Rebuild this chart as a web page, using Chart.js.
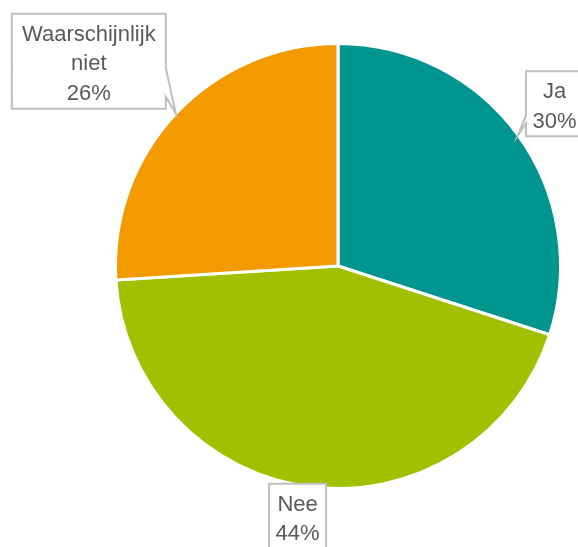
<!DOCTYPE html>
<html>
<head>
<meta charset="utf-8">
<script src="https://cdn.jsdelivr.net/npm/chart.js@4.4.1/dist/chart.umd.min.js"></script>
<style>
  html, body { margin: 0; padding: 0; background: #ffffff; }
  #wrap { width: 578px; height: 547px; position: relative; }
</style>
</head>
<body>
<div id="wrap"><canvas id="pie" width="578" height="547"></canvas></div>
<script>
const labels = ['Ja', 'Nee', 'Waarschijnlijk niet'];
const values = [30, 44, 26];
const colors = ['#00968F', '#A0C000', '#F39A00'];

// callout placement per slice: box offset from the tip, box size, which side the tail sits on
const callouts = [
    { dx: 8, dy: -64, w: 57, h: 65, side: 'left', t1: 44, t2: 52, lines: ['Ja'] },
    { dx: -41, dy: -3, w: 57, h: 65, side: 'none', lines: ['Nee'] },
    { dx: -164, dy: -100, w: 154, h: 95, side: 'right', t1: 54, t2: 83, lines: ['Waarschijnlijk', 'niet'] }
];

const calloutPlugin = {
    id: 'callouts',
    afterDatasetsDraw(chart) {
        const ctx = chart.ctx;
        const meta = chart.getDatasetMeta(0);
        const total = values.reduce((a, b) => a + b, 0);
        ctx.save();
        meta.data.forEach((arc, i) => {
            const p = arc.getProps(['x', 'y', 'startAngle', 'endAngle', 'outerRadius'], true);
            const mid = (p.startAngle + p.endAngle) / 2;
            const tipX = p.x + Math.cos(mid) * p.outerRadius;
            const tipY = p.y + Math.sin(mid) * p.outerRadius;
            const c = callouts[i];
            const left = tipX + c.dx, top = tipY + c.dy;
            const right = left + c.w, bottom = top + c.h;

            ctx.beginPath();
            if (c.side === 'right') {
                ctx.moveTo(left, top);
                ctx.lineTo(right, top);
                ctx.lineTo(right, top + c.t1);
                ctx.lineTo(tipX, tipY);
                ctx.lineTo(right, top + c.t2);
                ctx.lineTo(right, bottom);
                ctx.lineTo(left, bottom);
            } else if (c.side === 'left') {
                ctx.moveTo(left, top);
                ctx.lineTo(right, top);
                ctx.lineTo(right, bottom);
                ctx.lineTo(left, bottom);
                ctx.lineTo(left, top + c.t2);
                ctx.lineTo(tipX, tipY);
                ctx.lineTo(left, top + c.t1);
            } else {
                ctx.rect(left, top, c.w, c.h);
            }
            ctx.closePath();
            ctx.fillStyle = '#ffffff';
            ctx.fill();
            ctx.strokeStyle = '#BFBFBF';
            ctx.lineWidth = 2;
            ctx.stroke();

            const text = c.lines.concat([Math.round(values[i] / total * 100) + '%']);
            ctx.fillStyle = '#595959';
            ctx.font = '22px "Liberation Sans", Arial, sans-serif';
            ctx.textAlign = 'center';
            ctx.textBaseline = 'alphabetic';
            text.forEach((t, k) => {
                ctx.fillText(t, (left + right) / 2, top + 27 + k * 29.5);
            });
        });
        ctx.restore();
    }
};

const chart = new Chart(document.getElementById('pie').getContext('2d'), {
    type: 'pie',
    data: {
        labels: labels,
        datasets: [{
            data: values,
            backgroundColor: colors,
            borderColor: '#ffffff',
            borderWidth: 3
        }]
    },
    options: {
        responsive: false,
        animation: false,
        layout: {
            padding: { left: 114, right: 16, top: 42, bottom: 57 }
        },
        plugins: {
            legend: { display: false },
            tooltip: { enabled: false },
            title: { display: false }
        }
    },
    plugins: [calloutPlugin]
});
</script>
</body>
</html>
